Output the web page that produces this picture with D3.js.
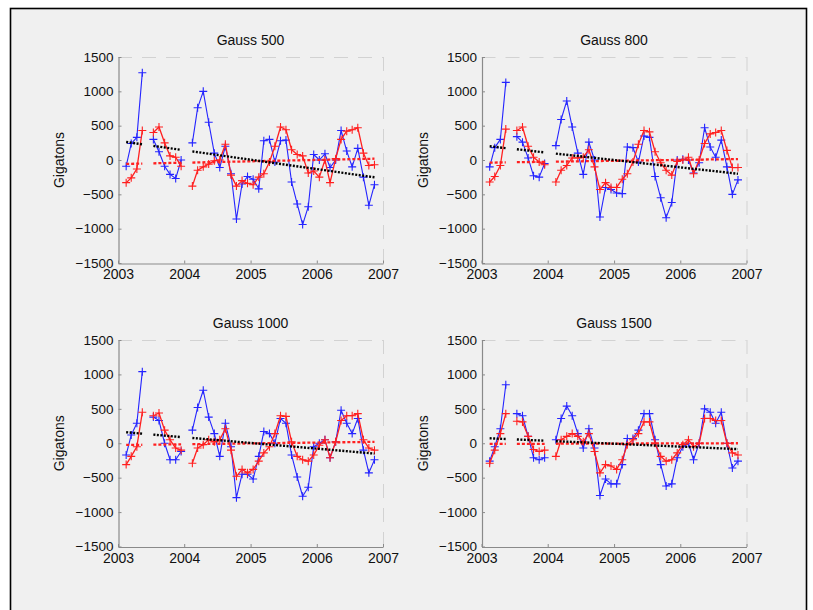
<!DOCTYPE html>
<html>
<head>
<meta charset="utf-8">
<script src="https://cdn.jsdelivr.net/npm/d3@7"></script>
<style>
  html, body { margin: 0; padding: 0; background: #ffffff; }
  svg { display: block; font-family: "Liberation Sans", Arial, Helvetica, sans-serif; }
</style>
</head>
<body>
<svg id="fig" width="813" height="610"></svg>
<script>
// Monthly solutions (June 2003 and January 2004 are missing)
const months = [
  "2003-02","2003-03","2003-04","2003-05","2003-07","2003-08","2003-09","2003-10","2003-11","2003-12",
  "2004-02","2004-03","2004-04","2004-05","2004-06","2004-07","2004-08","2004-09","2004-10","2004-11","2004-12",
  "2005-01","2005-02","2005-03","2005-04","2005-05","2005-06","2005-07","2005-08","2005-09","2005-10","2005-11","2005-12",
  "2006-01","2006-02","2006-03","2006-04","2006-05","2006-06","2006-07","2006-08","2006-09","2006-10","2006-11"
];

const titles = ["Gauss 500", "Gauss 800", "Gauss 1000", "Gauss 1500"];

// GRACE mass change (blue) in gigatons
const blue500 = [
  -90, 240, 330, 1270, 300, 120, -90, -210, -270, 0,
  250, 760, 1000, 550, 100, -110, 200, -200, -860, -350, -240,
  -280, -420, 280, 300, -30, 280, 290, -320, -640, -940, -680, 80,
  0, 90, -110, 0, 430, 130, -100, 170, -250, -660, -360
];
const blue800 = [
  -100, 180, 300, 1130, 340, 260, 30, -230, -250, -50,
  210, 590, 860, 480, 100, -210, 260, 0, -830, -400, -430,
  -480, -490, 190, 180, -30, 350, 330, -240, -550, -840, -620, 0,
  10, 0, -190, -40, 470, 190, 40, 290, -100, -500, -290
];
const blue1000 = [
  -170, 120, 290, 1040, 380, 330, 0, -240, -240, -120,
  190, 520, 770, 380, 140, -190, 290, -50, -790, -450, -450,
  -520, -190, 170, 140, 0, 360, 290, -170, -490, -770, -640, -50,
  0, 50, -210, 20, 480, 290, 140, 360, -100, -430, -240
];
const blue1500 = [
  -260, -50, 210, 850, 430, 400, 100, -210, -240, -210,
  50, 360, 540, 400, 140, -70, 210, -70, -760, -520, -590,
  -590, -310, 70, 70, 190, 430, 430, 50, -310, -620, -590, -210,
  -50, 0, -240, 0, 500, 450, 290, 450, 0, -360, -260
];

// Model mass change (red) in gigatons
const red500 = [
  -330, -260, -130, 430, 400, 480, 250, 60, 40, -90,
  -380, -150, -100, -60, -10, 0, 230, -220, -380, -300, -340,
  -360, -250, -200, -30, 200, 480, 440, 150, 80, 60, -190, -160,
  -250, 0, -330, 20, 300, 420, 440, 470, 100, -80, -70
];
const red800 = [
  -320, -240, -80, 450, 430, 480, 200, 40, -30, -70,
  -320, -150, -80, 30, 30, 40, 150, -100, -430, -330, -400,
  -400, -280, -200, -30, 230, 430, 410, 120, -40, -150, -220, -20,
  0, 40, -200, 0, 240, 380, 400, 430, 140, -110, -110
];
const red1000 = [
  -310, -190, -50, 450, 400, 440, 190, 50, -70, -100,
  -290, -70, -20, 50, 20, 50, 210, -100, -480, -380, -430,
  -380, -260, -140, -50, 140, 400, 390, 20, -190, -240, -260, -170,
  -30, 50, -210, 20, 330, 400, 400, 430, 50, -70, -100
];
const red1500 = [
  -290, -100, 140, 430, 320, 310, 100, -90, -120, -100,
  -190, 50, 100, 140, 100, 20, 140, -120, -430, -310, -330,
  -380, -240, -20, 50, 140, 310, 310, 0, -190, -260, -240, -140,
  -20, 50, -50, 0, 360, 360, 330, 330, 0, -140, -170
];

// Linear trends, start/end value of each continuous stretch of months
const blackTrend500  = [[262, 228], [205, 148], [125, -252]];
const blackTrend800  = [[200, 173], [156, 111], [93, -200]];
const blackTrend1000 = [[160, 139], [125, 90], [77, -150]];
const blackTrend1500 = [[72, 62], [55, 37], [30, -85]];

const redTrend500  = [[-57, -52], [-48, -40], [-37, 19]];
const redTrend800  = [[-38, -35], [-32, -27], [-24, 14]];
const redTrend1000 = [[-25, -22], [-20, -15], [-13, 20]];
const redTrend1500 = [[-10, -9], [-9, -8], [-7, 0]];

const yTicks = [-1500, -1000, -500, 0, 500, 1000, 1500];
const xTickYears = [2003, 2004, 2005, 2006, 2007];

// ---------------------------------------------------------------
const parseMonth = d3.timeParse("%Y-%m");
const dates = months.map(m => {
  const d = parseMonth(m);
  return new Date(d.getFullYear(), d.getMonth(), 15);
});

// Split the months into runs without gaps
const runs = [];
let start = 0;
for (let i = 1; i <= dates.length; i++) {
  const gap = i === dates.length ? true :
    (dates[i].getFullYear() * 12 + dates[i].getMonth()) -
    (dates[i - 1].getFullYear() * 12 + dates[i - 1].getMonth()) > 1;
  if (gap) { runs.push([start, i - 1]); start = i; }
}

const panels = [
  { title: titles[0], blue: blue500,  red: red500,  black: blackTrend500,  redT: redTrend500,  box: [118, 383, 57, 263] },
  { title: titles[1], blue: blue800,  red: red800,  black: blackTrend800,  redT: redTrend800,  box: [481.5, 746.5, 57, 263] },
  { title: titles[2], blue: blue1000, red: red1000, black: blackTrend1000, redT: redTrend1000, box: [118, 383, 340, 546.5] },
  { title: titles[3], blue: blue1500, red: red1500, black: blackTrend1500, redT: redTrend1500, box: [481.5, 746.5, 340, 546.5] }
];

const svg = d3.select("#fig");

// Figure window
svg.append("rect").attr("x", 0).attr("y", 0).attr("width", 813).attr("height", 610).attr("fill", "#ffffff");
svg.append("rect")
  .attr("x", 10.5).attr("y", 8.5).attr("width", 796).attr("height", 640)
  .attr("fill", "#f0f0f0").attr("stroke", "#000").attr("stroke-width", 1.6);

const BLUE = "#2424ff";
const RED = "#ff2020";
const AXIS = "#8a8a8a";

panels.forEach(p => {
  const [x0, x1, y0, y1] = p.box;
  const x = d3.scaleTime()
    .domain([new Date(2003, 0, 1), new Date(2007, 0, 1)])
    .range([x0, x1]);
  const y = d3.scaleLinear().domain([-1500, 1500]).range([y1, y0]);

  const g = svg.append("g");

  // faint box edges (top / right)
  g.append("line").attr("x1", x0).attr("x2", x1).attr("y1", y0 + 0.5).attr("y2", y0 + 0.5)
    .attr("stroke", "#d2d2d2").attr("stroke-dasharray", "14,10");
  g.append("line").attr("x1", x1 + 0.5).attr("x2", x1 + 0.5).attr("y1", y0).attr("y2", y1)
    .attr("stroke", "#d2d2d2").attr("stroke-dasharray", "14,10");

  // axes
  const yAxis = d3.axisLeft(y).tickValues(yTicks).tickSizeInner(-3).tickSizeOuter(0).tickPadding(5)
    .tickFormat(d3.format("d"));
  const xAxis = d3.axisBottom(x)
    .tickValues(xTickYears.map(yr => new Date(yr, 0, 1)))
    .tickSizeInner(-3).tickSizeOuter(0).tickPadding(6)
    .tickFormat(d3.timeFormat("%Y"));

  const ya = g.append("g").attr("transform", `translate(${x0 + 0.5},0)`).call(yAxis);
  const xa = g.append("g").attr("transform", `translate(0,${y1 + 0.5})`).call(xAxis);
  [ya, xa].forEach(a => {
    a.select(".domain").attr("stroke", AXIS).attr("stroke-width", 1.2);
    a.selectAll(".tick line").attr("stroke", AXIS);
    a.selectAll(".tick text").attr("fill", "#111").attr("font-size", 13.5)
      .attr("font-family", "Liberation Sans, Arial, sans-serif");
  });
  xa.selectAll(".tick text").attr("font-size", 14);

  // title and y label
  g.append("text").attr("x", (x0 + x1) / 2).attr("y", y0 - 12)
    .attr("text-anchor", "middle").attr("font-size", 14).attr("fill", "#111").text(p.title);
  g.append("text")
    .attr("transform", `translate(${x0 - 54},${(y0 + y1) / 2}) rotate(-90)`)
    .attr("text-anchor", "middle").attr("font-size", 14).attr("fill", "#111").text("Gigatons");

  const line = d3.line().x(d => x(d.date)).y(d => y(d.v));

  function series(values, color, width) {
    runs.forEach(([a, b]) => {
      const pts = d3.range(a, b + 1).map(i => ({ date: dates[i], v: values[i] }));
      g.append("path").attr("d", line(pts)).attr("fill", "none")
        .attr("stroke", color).attr("stroke-width", width).attr("stroke-linejoin", "round");
    });
    const s = 4;
    g.append("path")
      .attr("d", values.map((v, i) => {
        const cx = x(dates[i]), cy = y(v);
        return `M${cx - s},${cy}h${2 * s}M${cx},${cy - s}v${2 * s}`;
      }).join(""))
      .attr("fill", "none").attr("stroke", color).attr("stroke-width", 1.1);
  }

  function trend(pairs, color, dash, width) {
    runs.forEach(([a, b], k) => {
      const pts = [{ date: dates[a], v: pairs[k][0] }, { date: dates[b], v: pairs[k][1] }];
      g.append("path").attr("d", line(pts)).attr("fill", "none")
        .attr("stroke", color).attr("stroke-width", width).attr("stroke-dasharray", dash);
    });
  }

  series(p.blue, BLUE, 1.1);
  series(p.red, RED, 1.3);
  trend(p.redT, RED, "3,2", 2.3);
  trend(p.black, "#000", "2,1.5", 2.4);
});
</script>
</body>
</html>
